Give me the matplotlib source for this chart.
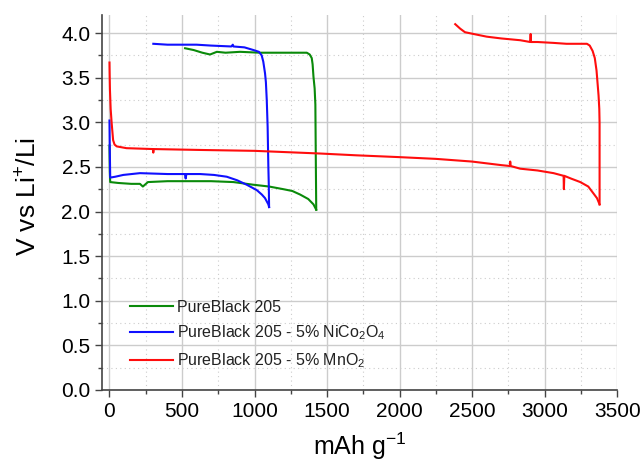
import numpy as np
import matplotlib
matplotlib.use("Agg")
import matplotlib.pyplot as plt
from matplotlib.ticker import MultipleLocator, FormatStrFormatter

plt.rcParams['font.family'] = ['Liberation Sans', 'DejaVu Sans']
plt.rcParams['mathtext.fontset'] = 'custom'
plt.rcParams['mathtext.rm'] = 'Liberation Sans'
plt.rcParams['mathtext.it'] = 'Liberation Sans'

# PureBlack 205 : discharge then charge (mAh/g, V)
pb_dis_x = [0, 2, 5, 60, 150, 210, 230, 265, 400, 532, 700, 854, 992, 1100, 1199, 1260, 1314, 1370, 1406, 1425]
pb_dis_v = [2.74, 2.45, 2.33, 2.32, 2.31, 2.31, 2.28, 2.33, 2.34, 2.34, 2.34, 2.33, 2.30, 2.28, 2.25, 2.23, 2.19, 2.14, 2.08, 2.02]
pb_chg_x = [1425, 1422, 1419, 1414, 1406, 1400, 1394, 1380, 1360, 1200, 1037, 900, 800, 740, 693, 640, 600, 580, 521]
pb_chg_v = [2.02, 2.60, 3.20, 3.38, 3.51, 3.65, 3.72, 3.76, 3.78, 3.78, 3.78, 3.79, 3.78, 3.79, 3.76, 3.78, 3.80, 3.81, 3.83]

# PureBlack 205 - 5% NiCo2O4
nc_dis_x = [0, 2, 5, 40, 95, 210, 400, 520, 525, 530, 625, 720, 808, 880, 946, 1015, 1050, 1072, 1095, 1100]
nc_dis_v = [3.02, 2.70, 2.38, 2.39, 2.41, 2.43, 2.42, 2.42, 2.37, 2.42, 2.42, 2.41, 2.39, 2.35, 2.30, 2.24, 2.19, 2.15, 2.08, 2.05]
nc_chg_x = [1100, 1098, 1095, 1090, 1084, 1078, 1072, 1060, 1049, 1030, 992, 930, 854, 850, 840, 700, 600, 487, 400, 302]
nc_chg_v = [2.05, 2.30, 2.50, 2.95, 3.25, 3.45, 3.55, 3.68, 3.75, 3.79, 3.81, 3.84, 3.85, 3.87, 3.85, 3.86, 3.87, 3.87, 3.87, 3.88]

# PureBlack 205 - 5% MnO2
mn_dis_x = [0, 1, 3, 8, 15, 25, 35, 50, 117, 300, 302, 304, 624, 1000, 1452, 1700, 1992, 2250, 2498, 2700, 2760, 2762, 2765,
            2831, 2950, 3061, 3130, 3132, 3135, 3180, 3245, 3300, 3337, 3360, 3378]
mn_dis_v = [3.67, 3.55, 3.37, 3.15, 2.99, 2.80, 2.75, 2.73, 2.71, 2.70, 2.66, 2.70, 2.69, 2.68, 2.65, 2.63, 2.61, 2.59, 2.56, 2.52, 2.51, 2.56, 2.51,
            2.48, 2.46, 2.43, 2.40, 2.25, 2.40, 2.37, 2.33, 2.28, 2.20, 2.15, 2.08]
mn_chg_x = [3378, 3378, 3376, 3371, 3365, 3357, 3345, 3330, 3310, 3291, 3245, 3150, 3061, 2950, 2905, 2903, 2900, 2831, 2700, 2600, 2509, 2450, 2417, 2383]
mn_chg_v = [2.08, 2.99, 3.15, 3.30, 3.42, 3.58, 3.72, 3.80, 3.86, 3.88, 3.88, 3.88, 3.89, 3.90, 3.90, 3.99, 3.90, 3.92, 3.94, 3.96, 3.99, 4.01, 4.05, 4.10]

labels = ['PureBlack 205',
          'PureBlack 205 - 5% NiCo$_2$O$_4$',
          'PureBlack 205 - 5% MnO$_2$']
colors = ['#0a8a0a', '#1010ff', '#ff0d0d']

fig = plt.figure(figsize=(6.43, 4.62), dpi=100)
ax = fig.add_axes([0.159, 0.156, 0.801, 0.811])

curves = [(pb_dis_x, pb_dis_v, pb_chg_x, pb_chg_v),
          (nc_dis_x, nc_dis_v, nc_chg_x, nc_chg_v),
          (mn_dis_x, mn_dis_v, mn_chg_x, mn_chg_v)]
for (dx, dv, cx, cv), lab, col in zip(curves, labels, colors):
    ax.plot(dx, dv, color=col, lw=1.5, label=lab)
    ax.plot(cx, cv, color=col, lw=1.5)

ax.set_xlim(-50, 3500)
ax.set_ylim(0, 4.2)
ax.xaxis.set_major_locator(MultipleLocator(500))
ax.xaxis.set_minor_locator(MultipleLocator(250))
ax.yaxis.set_major_locator(MultipleLocator(0.5))
ax.yaxis.set_minor_locator(MultipleLocator(0.25))
ax.yaxis.set_major_formatter(FormatStrFormatter('%.1f'))

ax.grid(which='major', color='#cccccc', lw=1.0, ls='-')
ax.grid(which='minor', color='#cccccc', lw=0.8, ls=(0, (1, 3)))
ax.set_axisbelow(True)

for s in ['top', 'right']:
    ax.spines[s].set_visible(False)
for s in ['left', 'bottom']:
    ax.spines[s].set_color('#444444')
    ax.spines[s].set_linewidth(1.2)

ax.tick_params(which='major', direction='out', length=5, width=1, color='#444444',
               labelsize=15, labelcolor='black')
ax.tick_params(which='minor', direction='out', length=3, width=1, color='#444444')

ax.set_xlabel('mAh g$^{-1}$', fontsize=18, labelpad=7)
ax.set_ylabel('V vs Li$^{+}$/Li', fontsize=19)
ax.yaxis.set_label_coords(-0.118, 0.515)

leg = ax.legend(loc='upper left', bbox_to_anchor=(0.054, 0.24), frameon=False,
                borderaxespad=0, borderpad=0,
                fontsize=11.5, handlelength=2.7, handletextpad=0.25, labelspacing=0.55)
for t in leg.get_texts():
    t.set_color('#222222')

fig.savefig('out.png', dpi=100)
